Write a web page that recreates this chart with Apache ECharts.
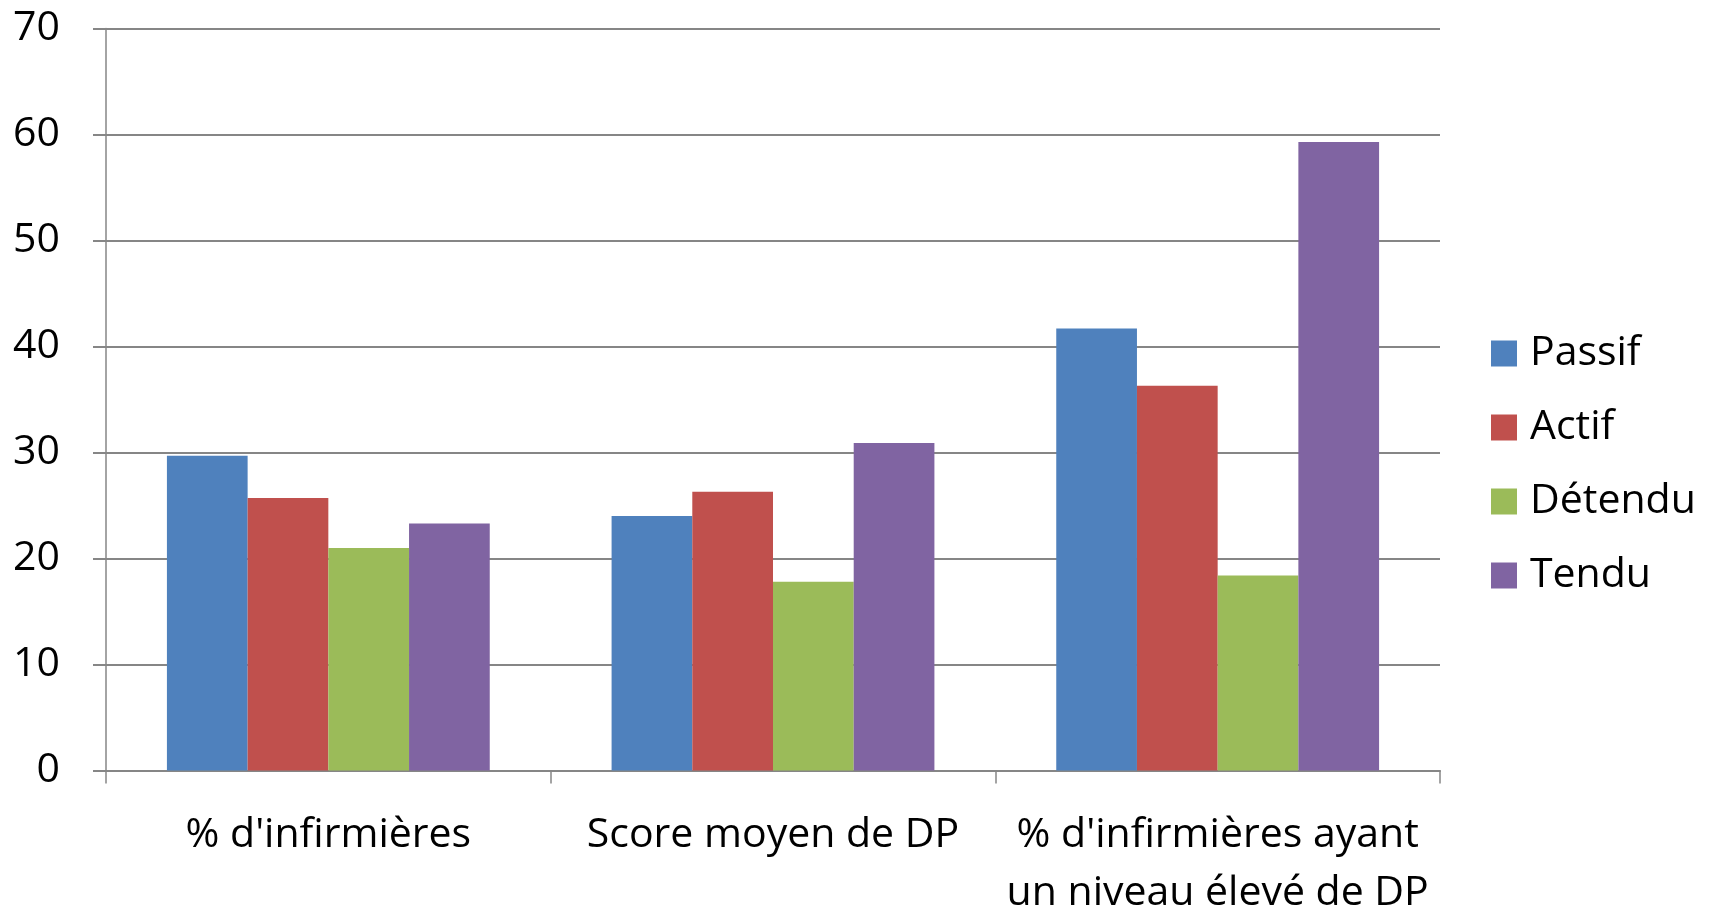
<!DOCTYPE html>
<html>
<head>
<meta charset="utf-8">
<script src="https://cdn.jsdelivr.net/npm/echarts@6/dist/echarts.min.js"></script>
<style>
html,body{margin:0;padding:0;background:#fff;}
#chart{width:1711px;height:912px;}
</style>
</head>
<body>
<div id="chart"></div>
<script>
const categories = ["% d'infirmières", "Score moyen de DP", "% d'infirmières ayant\nun niveau élevé de DP"];
const seriesNames = ["Passif", "Actif", "Détendu", "Tendu"];
const passif = [29.7, 24.0, 41.7];
const actif = [25.7, 26.3, 36.3];
const detendu = [21.0, 17.8, 18.4];
const tendu = [23.3, 30.9, 59.3];
const colors = ["#4F81BD", "#C0504D", "#9BBB59", "#8064A2"];
const yTicks = [0, 10, 20, 30, 40, 50, 60, 70];

const values = [passif, actif, detendu, tendu];
const FONT = "Open Sans";
const chart = echarts.init(document.getElementById('chart'));
chart.setOption({
  animation: false,
  textStyle: { fontFamily: FONT },
  grid: { left: 106, right: 271, top: 28.5, bottom: 141.5, containLabel: false, outerBoundsMode: 'none' },
  legend: {
    orient: 'vertical',
    left: 1486,
    top: 328,
    itemWidth: 26,
    itemHeight: 26,
    itemGap: 33,
    icon: 'rect',
    textStyle: { fontFamily: FONT, fontSize: 41, color: '#000', padding: [0, 0, 0, 8] },
    data: seriesNames
  },
  xAxis: {
    type: 'category',
    data: categories,
    axisLine: { lineStyle: { color: '#868686', width: 2 } },
    axisTick: { show: true, length: 13, lineStyle: { color: '#868686', width: 1.5 } },
    axisLabel: { fontFamily: FONT, fontSize: 41, color: '#000', margin: 36, lineHeight: 58, interval: 0 }
  },
  yAxis: {
    type: 'value',
    min: yTicks[0],
    max: yTicks[yTicks.length - 1],
    interval: 10,
    axisLine: { show: true, lineStyle: { color: '#868686', width: 1.5 } },
    axisTick: { show: true, length: 13, lineStyle: { color: '#868686', width: 2 } },
    splitLine: { lineStyle: { color: '#868686', width: 2 } },
    axisLabel: { fontFamily: FONT, fontSize: 41, color: '#000', margin: 46 }
  },
  series: seriesNames.map((n, i) => ({
    name: n,
    type: 'bar',
    data: values[i],
    barGap: '0%',
    barCategoryGap: '27.4%',
    itemStyle: { color: colors[i] }
  }))
});
</script>
</body>
</html>
